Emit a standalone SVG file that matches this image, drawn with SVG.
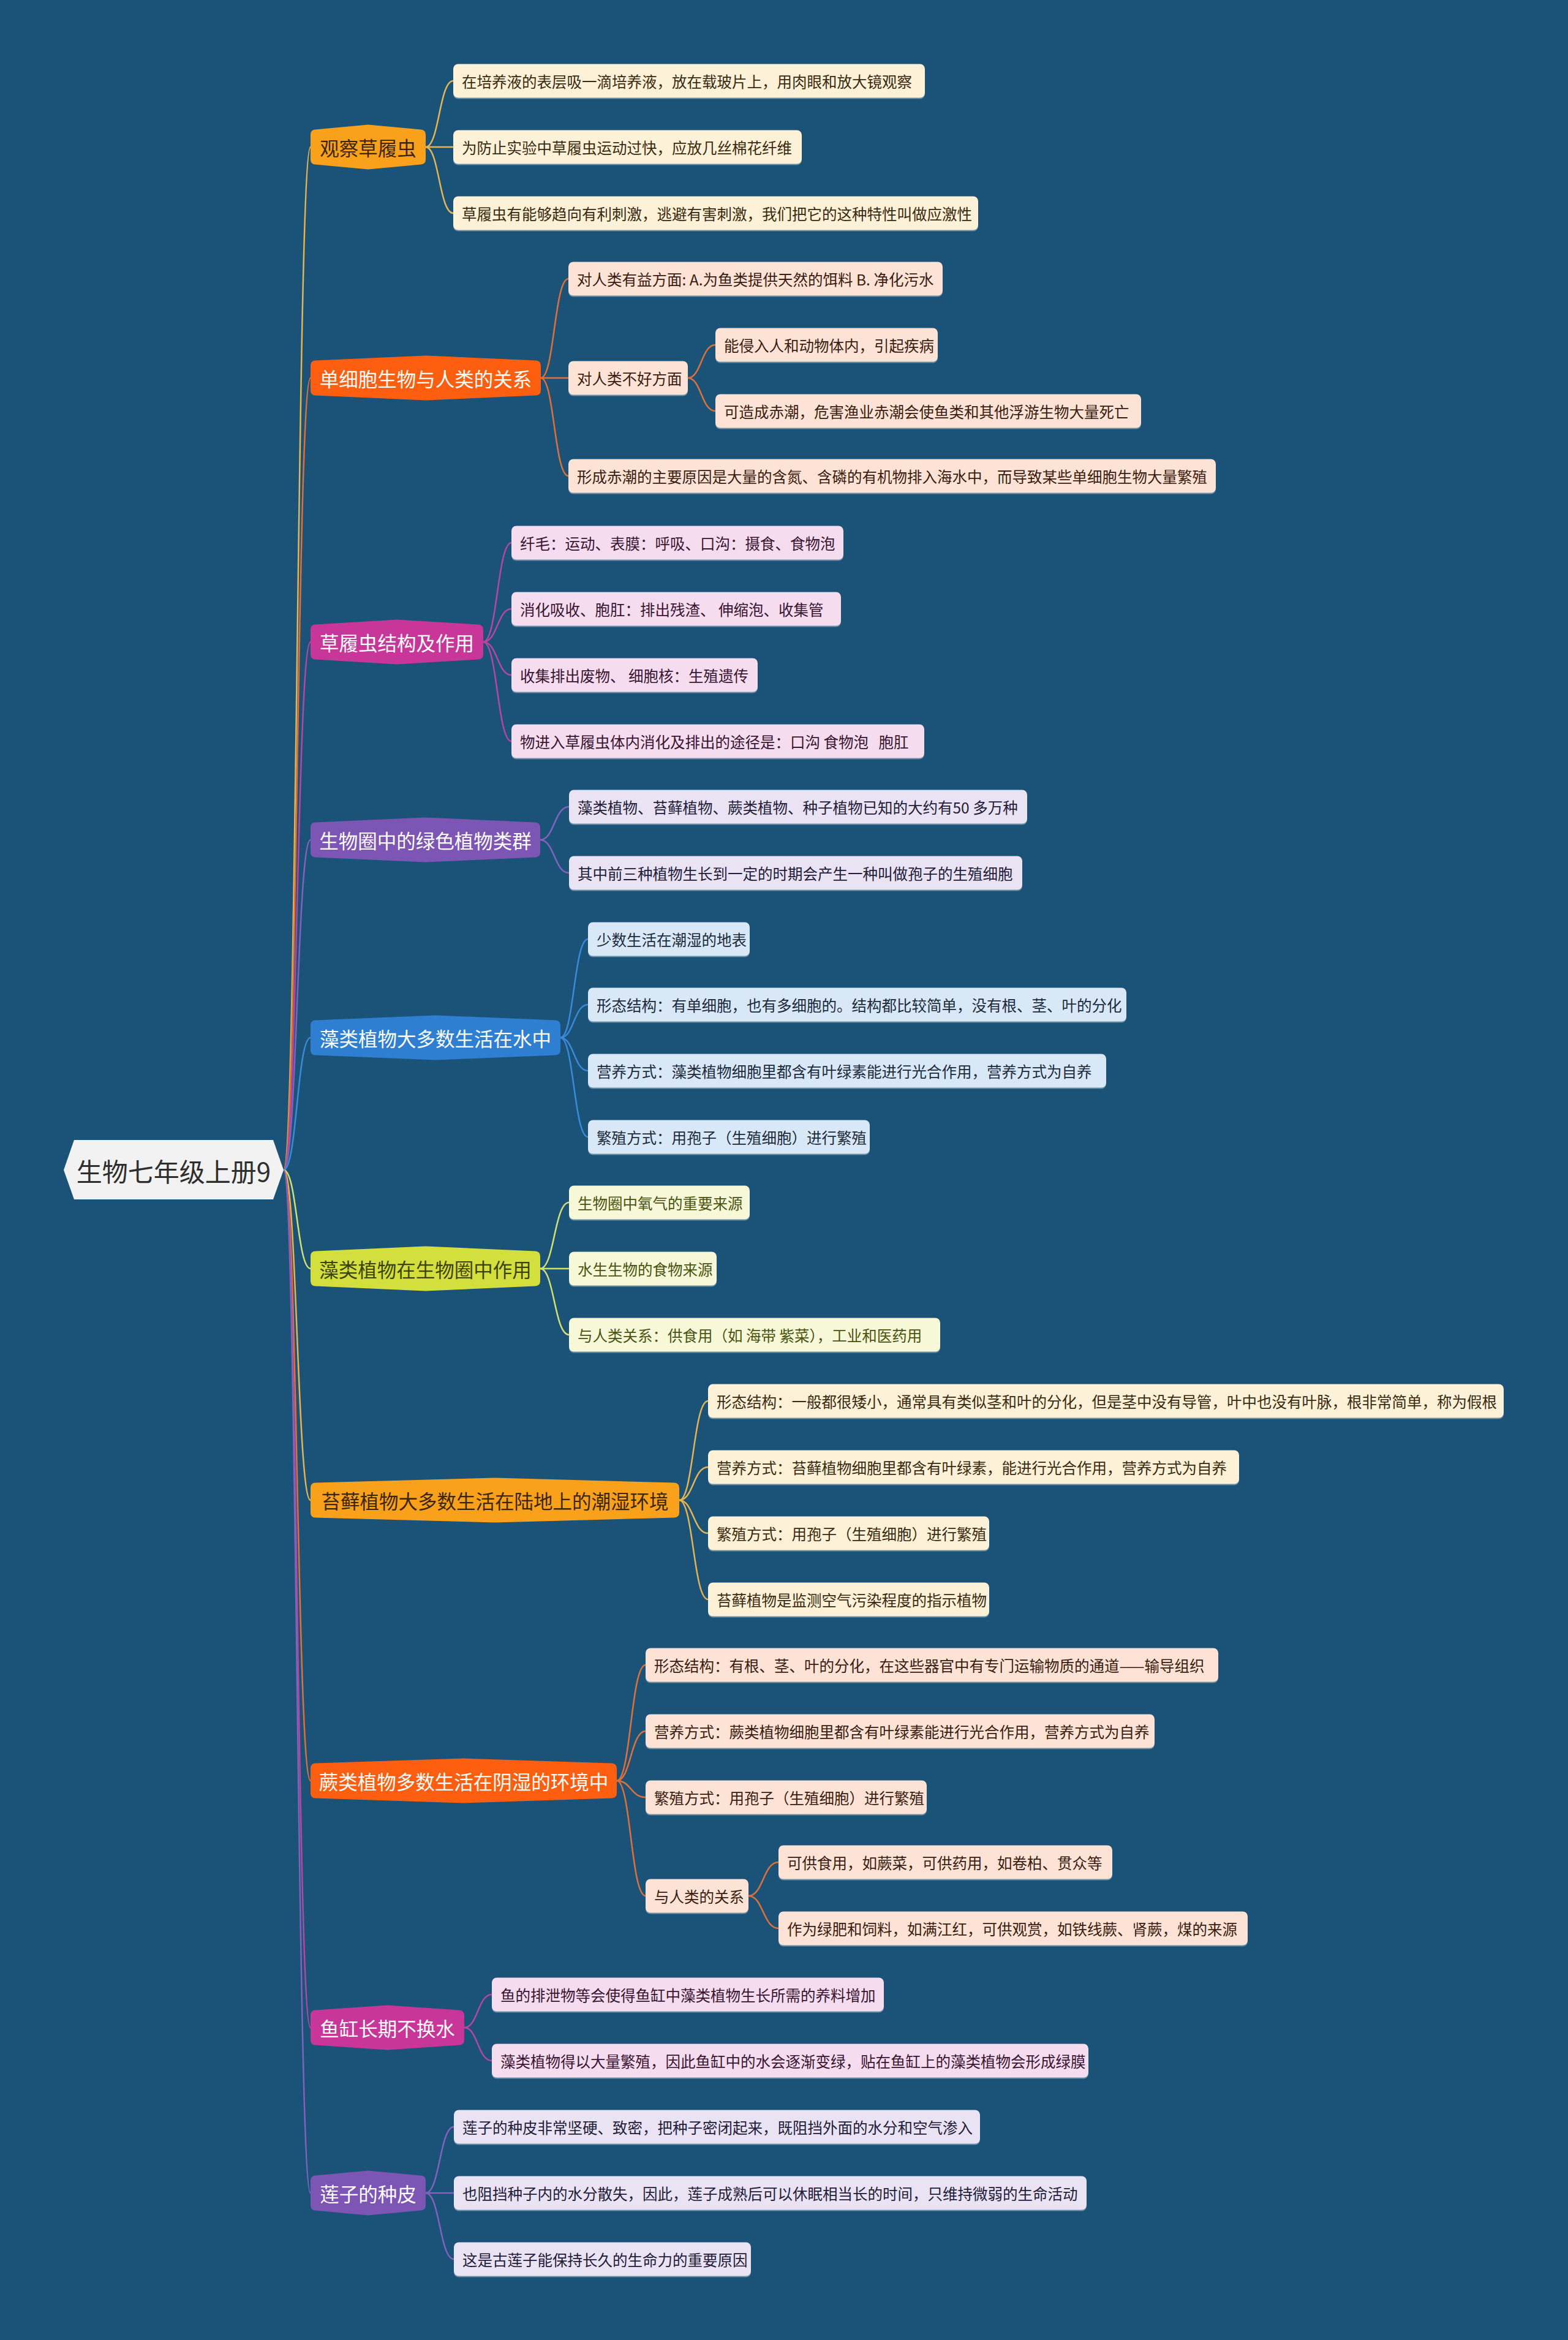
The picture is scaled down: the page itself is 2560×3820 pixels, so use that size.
<svg xmlns="http://www.w3.org/2000/svg" width="2560" height="3820" viewBox="0 0 2560 3820">
<style>
text{font-family:"Noto Sans CJK SC","Microsoft YaHei",sans-serif;dominant-baseline:central}
.lt{font-size:24.5px}
.nt{font-size:31.5px;text-anchor:middle}
.rt{font-size:42px;text-anchor:middle;fill:#2e2e2e}
.c{fill:none;stroke-width:2.5}
.sh{fill:#ffffff;opacity:.35}
.amber .np{fill:#f9a11b}.amber .nt{fill:#3b2607}
.red .np{fill:#fd5e0f}.red .nt{fill:#ffffff}
.mag .np{fill:#c8369a}.mag .nt{fill:#ffffff}
.pur .np{fill:#7d55b4}.pur .nt{fill:#ffffff}
.blue .np{fill:#2e7fd1}.blue .nt{fill:#ffffff}
.yg .np{fill:#d3df3c}.yg .nt{fill:#3b420a}
.la rect.b{fill:#fdf1d8}.la text{fill:#3a2a10}
.lr rect.b{fill:#fde3d5}.lr text{fill:#3b1c10}
.lm rect.b{fill:#f5dcee}.lm text{fill:#3a1532}
.lp rect.b{fill:#e9e3f3}.lp text{fill:#231c3a}
.lb rect.b{fill:#d9e8f6}.lb text{fill:#1b2a3d}
.ly rect.b{fill:#f6f8d8}.ly text{fill:#4b5310}
.ca{stroke:#e6b450}.cr{stroke:#e07038}.cm{stroke:#b447a0}.cp{stroke:#8262bc}.cb{stroke:#3a8ad8}.cy{stroke:#d3e070}
</style>
<rect x="0" y="0" width="2560" height="3820" fill="#1b5378"/>

<g id="connectors">
<path class="c ca" d="M463,1910 C485,1910 485,240 507,240"/>
<path class="c cr" d="M463,1910 C485,1910 485,617 507,617"/>
<path class="c cm" d="M463,1910 C485,1910 485,1048 507,1048"/>
<path class="c cp" d="M463,1910 C485,1910 485,1371 507,1371"/>
<path class="c cb" d="M463,1910 C485,1910 485,1694 507,1694"/>
<path class="c cy" d="M463,1910 C485,1910 485,2071 507,2071"/>
<path class="c ca" d="M463,1910 C485,1910 485,2449 507,2449"/>
<path class="c cr" d="M463,1910 C485,1910 485,2907 507,2907"/>
<path class="c cm" d="M463,1910 C485,1910 485,3310 507,3310"/>
<path class="c cp" d="M463,1910 C485,1910 485,3580 507,3580"/>

<path class="c ca" d="M695,240 C717,240 717,132 740,132"/>
<path class="c ca" d="M695,240 L740,240"/>
<path class="c ca" d="M695,240 C717,240 717,348 740,348"/>

<path class="c cr" d="M883,617 C905,617 905,455 928,455"/>
<path class="c cr" d="M883,617 L928,617"/>
<path class="c cr" d="M883,617 C905,617 905,777 928,777"/>
<path class="c cr" d="M1123,617 C1145,617 1145,563 1168,563"/>
<path class="c cr" d="M1123,617 C1145,617 1145,671 1168,671"/>

<path class="c cm" d="M789,1048 C812,1048 812,886 835,886"/>
<path class="c cm" d="M789,1048 C812,1048 812,994 835,994"/>
<path class="c cm" d="M789,1048 C812,1048 812,1102 835,1102"/>
<path class="c cm" d="M789,1048 C812,1048 812,1210 835,1210"/>

<path class="c cp" d="M882,1371 C905,1371 905,1317 929,1317"/>
<path class="c cp" d="M882,1371 C905,1371 905,1425 929,1425"/>

<path class="c cb" d="M915,1694 C937,1694 937,1533 960,1533"/>
<path class="c cb" d="M915,1694 C937,1694 937,1640 960,1640"/>
<path class="c cb" d="M915,1694 C937,1694 937,1748 960,1748"/>
<path class="c cb" d="M915,1694 C937,1694 937,1856 960,1856"/>

<path class="c cy" d="M882,2071 C905,2071 905,1963 929,1963"/>
<path class="c cy" d="M882,2071 L929,2071"/>
<path class="c cy" d="M882,2071 C905,2071 905,2179 929,2179"/>

<path class="c ca" d="M1109,2449 C1132,2449 1132,2287 1156,2287"/>
<path class="c ca" d="M1109,2449 C1132,2449 1132,2395 1156,2395"/>
<path class="c ca" d="M1109,2449 C1132,2449 1132,2503 1156,2503"/>
<path class="c ca" d="M1109,2449 C1132,2449 1132,2611 1156,2611"/>

<path class="c cr" d="M1007,2907 C1030,2907 1030,2718 1054,2718"/>
<path class="c cr" d="M1007,2907 C1030,2907 1030,2826 1054,2826"/>
<path class="c cr" d="M1007,2907 C1030,2907 1030,2934 1054,2934"/>
<path class="c cr" d="M1007,2907 C1030,2907 1030,3095 1054,3095"/>
<path class="c cr" d="M1222,3095 C1246,3095 1246,3040 1271,3040"/>
<path class="c cr" d="M1222,3095 C1246,3095 1246,3148 1271,3148"/>

<path class="c cm" d="M758,3310 C780,3310 780,3256 803,3256"/>
<path class="c cm" d="M758,3310 C780,3310 780,3364 803,3364"/>

<path class="c cp" d="M695,3580 C718,3580 718,3472 741,3472"/>
<path class="c cp" d="M695,3580 L741,3580"/>
<path class="c cp" d="M695,3580 C718,3580 718,3688 741,3688"/>
</g>

<g id="root">
<polygon points="121,1861 446,1861 463,1910 446,1958 121,1958 104,1910" fill="#f2f2f2"/>
<text class="rt" x="283.5" y="1910">生物七年级上册9</text>
</g>

<!-- Branch 1 -->
<g id="n1" class="amber" transform="translate(507,240)">
<path class="np" d="M0,-20 Q0,-28 8,-28.5 L94,-36.5 L180,-28.5 Q188,-28 188,-20 L188,20 Q188,28 180,28.5 L94,36.5 L8,28.5 Q0,28 0,20 Z"/>
<text class="nt" x="94" y="0">观察草履虫</text>
</g>
<g id="l1a" class="la" transform="translate(740,132)"><rect class="sh" x="0" y="-25.5" width="770" height="55" rx="8"/><rect class="b" x="0" y="-27.5" width="770" height="55" rx="8"/><text class="lt" x="14" y="0">在培养液的表层吸一滴培养液，放在载玻片上，用肉眼和放大镜观察</text></g>
<g id="l1b" class="la" transform="translate(740,240)"><rect class="sh" x="0" y="-25.5" width="569" height="55" rx="8"/><rect class="b" x="0" y="-27.5" width="569" height="55" rx="8"/><text class="lt" x="14" y="0">为防止实验中草履虫运动过快，应放几丝棉花纤维</text></g>
<g id="l1c" class="la" transform="translate(740,348)"><rect class="sh" x="0" y="-25.5" width="857" height="55" rx="8"/><rect class="b" x="0" y="-27.5" width="857" height="55" rx="8"/><text class="lt" x="14" y="0">草履虫有能够趋向有利刺激，逃避有害刺激，我们把它的这种特性叫做应激性</text></g>

<!-- Branch 2 -->
<g id="n2" class="red" transform="translate(507,617)">
<path class="np" d="M0,-20 Q0,-28 8,-28.5 L188,-36.5 L368,-28.5 Q376,-28 376,-20 L376,20 Q376,28 368,28.5 L188,36.5 L8,28.5 Q0,28 0,20 Z"/>
<text class="nt" x="188" y="0">单细胞生物与人类的关系</text>
</g>
<g id="l2a" class="lr" transform="translate(928,455)"><rect class="sh" x="0" y="-25.5" width="611" height="55" rx="8"/><rect class="b" x="0" y="-27.5" width="611" height="55" rx="8"/><text class="lt" x="14" y="0">对人类有益方面: A.为鱼类提供天然的饵料 B. 净化污水</text></g>
<g id="l2b" class="lr" transform="translate(928,617)"><rect class="sh" x="0" y="-25.5" width="195" height="55" rx="8"/><rect class="b" x="0" y="-27.5" width="195" height="55" rx="8"/><text class="lt" x="14" y="0">对人类不好方面</text></g>
<g id="l2b1" class="lr" transform="translate(1168,563)"><rect class="sh" x="0" y="-25.5" width="363" height="55" rx="8"/><rect class="b" x="0" y="-27.5" width="363" height="55" rx="8"/><text class="lt" x="14" y="0">能侵入人和动物体内，引起疾病</text></g>
<g id="l2b2" class="lr" transform="translate(1168,671)"><rect class="sh" x="0" y="-25.5" width="695" height="55" rx="8"/><rect class="b" x="0" y="-27.5" width="695" height="55" rx="8"/><text class="lt" x="14" y="0">可造成赤潮，危害渔业赤潮会使鱼类和其他浮游生物大量死亡</text></g>
<g id="l2c" class="lr" transform="translate(928,777)"><rect class="sh" x="0" y="-25.5" width="1057" height="55" rx="8"/><rect class="b" x="0" y="-27.5" width="1057" height="55" rx="8"/><text class="lt" x="14" y="0">形成赤潮的主要原因是大量的含氮、含磷的有机物排入海水中，而导致某些单细胞生物大量繁殖</text></g>

<!-- Branch 3 -->
<g id="n3" class="mag" transform="translate(507,1048)">
<path class="np" d="M0,-20 Q0,-28 8,-28.5 L141,-36.5 L274,-28.5 Q282,-28 282,-20 L282,20 Q282,28 274,28.5 L141,36.5 L8,28.5 Q0,28 0,20 Z"/>
<text class="nt" x="141" y="0">草履虫结构及作用</text>
</g>
<g id="l3a" class="lm" transform="translate(835,886)"><rect class="sh" x="0" y="-25.5" width="542" height="55" rx="8"/><rect class="b" x="0" y="-27.5" width="542" height="55" rx="8"/><text class="lt" x="14" y="0">纤毛：运动、表膜：呼吸、口沟：摄食、食物泡</text></g>
<g id="l3b" class="lm" transform="translate(835,994)"><rect class="sh" x="0" y="-25.5" width="538" height="55" rx="8"/><rect class="b" x="0" y="-27.5" width="538" height="55" rx="8"/><text class="lt" x="14" y="0">消化吸收、胞肛：排出残渣、 伸缩泡、收集管</text></g>
<g id="l3c" class="lm" transform="translate(835,1102)"><rect class="sh" x="0" y="-25.5" width="402" height="55" rx="8"/><rect class="b" x="0" y="-27.5" width="402" height="55" rx="8"/><text class="lt" x="14" y="0">收集排出废物、 细胞核：生殖遗传</text></g>
<g id="l3d" class="lm" transform="translate(835,1210)"><rect class="sh" x="0" y="-25.5" width="674" height="55" rx="8"/><rect class="b" x="0" y="-27.5" width="674" height="55" rx="8"/><text class="lt" x="14" y="0" xml:space="preserve">物进入草履虫体内消化及排出的途径是：口沟 食物泡   胞肛</text></g>

<!-- Branch 4 -->
<g id="n4" class="pur" transform="translate(507,1371)">
<path class="np" d="M0,-20 Q0,-28 8,-28.5 L187.5,-36.5 L367,-28.5 Q375,-28 375,-20 L375,20 Q375,28 367,28.5 L187.5,36.5 L8,28.5 Q0,28 0,20 Z"/>
<text class="nt" x="187.5" y="0">生物圈中的绿色植物类群</text>
</g>
<g id="l4a" class="lp" transform="translate(929,1317)"><rect class="sh" x="0" y="-25.5" width="748" height="55" rx="8"/><rect class="b" x="0" y="-27.5" width="748" height="55" rx="8"/><text class="lt" x="14" y="0">藻类植物、苔藓植物、蕨类植物、种子植物已知的大约有50 多万种</text></g>
<g id="l4b" class="lp" transform="translate(929,1425)"><rect class="sh" x="0" y="-25.5" width="740" height="55" rx="8"/><rect class="b" x="0" y="-27.5" width="740" height="55" rx="8"/><text class="lt" x="14" y="0">其中前三种植物生长到一定的时期会产生一种叫做孢子的生殖细胞</text></g>

<!-- Branch 5 -->
<g id="n5" class="blue" transform="translate(507,1694)">
<path class="np" d="M0,-20 Q0,-28 8,-28.5 L204,-36.5 L400,-28.5 Q408,-28 408,-20 L408,20 Q408,28 400,28.5 L204,36.5 L8,28.5 Q0,28 0,20 Z"/>
<text class="nt" x="204" y="0">藻类植物大多数生活在水中</text>
</g>
<g id="l5a" class="lb" transform="translate(960,1533)"><rect class="sh" x="0" y="-25.5" width="264" height="55" rx="8"/><rect class="b" x="0" y="-27.5" width="264" height="55" rx="8"/><text class="lt" x="14" y="0">少数生活在潮湿的地表</text></g>
<g id="l5b" class="lb" transform="translate(960,1640)"><rect class="sh" x="0" y="-25.5" width="879" height="55" rx="8"/><rect class="b" x="0" y="-27.5" width="879" height="55" rx="8"/><text class="lt" x="14" y="0">形态结构：有单细胞，也有多细胞的。结构都比较简单，没有根、茎、叶的分化</text></g>
<g id="l5c" class="lb" transform="translate(960,1748)"><rect class="sh" x="0" y="-25.5" width="846" height="55" rx="8"/><rect class="b" x="0" y="-27.5" width="846" height="55" rx="8"/><text class="lt" x="14" y="0">营养方式：藻类植物细胞里都含有叶绿素能进行光合作用，营养方式为自养</text></g>
<g id="l5d" class="lb" transform="translate(960,1856)"><rect class="sh" x="0" y="-25.5" width="460" height="55" rx="8"/><rect class="b" x="0" y="-27.5" width="460" height="55" rx="8"/><text class="lt" x="14" y="0">繁殖方式：用孢子（生殖细胞）进行繁殖</text></g>

<!-- Branch 6 -->
<g id="n6" class="yg" transform="translate(507,2071)">
<path class="np" d="M0,-20 Q0,-28 8,-28.5 L187.5,-36.5 L367,-28.5 Q375,-28 375,-20 L375,20 Q375,28 367,28.5 L187.5,36.5 L8,28.5 Q0,28 0,20 Z"/>
<text class="nt" x="187.5" y="0">藻类植物在生物圈中作用</text>
</g>
<g id="l6a" class="ly" transform="translate(929,1963)"><rect class="sh" x="0" y="-25.5" width="295" height="55" rx="8"/><rect class="b" x="0" y="-27.5" width="295" height="55" rx="8"/><text class="lt" x="14" y="0">生物圈中氧气的重要来源</text></g>
<g id="l6b" class="ly" transform="translate(929,2071)"><rect class="sh" x="0" y="-25.5" width="241" height="55" rx="8"/><rect class="b" x="0" y="-27.5" width="241" height="55" rx="8"/><text class="lt" x="14" y="0">水生生物的食物来源</text></g>
<g id="l6c" class="ly" transform="translate(929,2179)"><rect class="sh" x="0" y="-25.5" width="606" height="55" rx="8"/><rect class="b" x="0" y="-27.5" width="606" height="55" rx="8"/><text class="lt" x="14" y="0">与人类关系：供食用（如 海带 紫菜），工业和医药用</text></g>

<!-- Branch 7 -->
<g id="n7" class="amber" transform="translate(507,2449)">
<path class="np" d="M0,-20 Q0,-28 8,-28.5 L301,-36.5 L594,-28.5 Q602,-28 602,-20 L602,20 Q602,28 594,28.5 L301,36.5 L8,28.5 Q0,28 0,20 Z"/>
<text class="nt" x="301" y="0">苔藓植物大多数生活在陆地上的潮湿环境</text>
</g>
<g id="l7a" class="la" transform="translate(1156,2287)"><rect class="sh" x="0" y="-25.5" width="1299" height="55" rx="8"/><rect class="b" x="0" y="-27.5" width="1299" height="55" rx="8"/><text class="lt" x="14" y="0">形态结构：一般都很矮小，通常具有类似茎和叶的分化，但是茎中没有导管，叶中也没有叶脉，根非常简单，称为假根</text></g>
<g id="l7b" class="la" transform="translate(1156,2395)"><rect class="sh" x="0" y="-25.5" width="867" height="55" rx="8"/><rect class="b" x="0" y="-27.5" width="867" height="55" rx="8"/><text class="lt" x="14" y="0">营养方式：苔藓植物细胞里都含有叶绿素，能进行光合作用，营养方式为自养</text></g>
<g id="l7c" class="la" transform="translate(1156,2503)"><rect class="sh" x="0" y="-25.5" width="459" height="55" rx="8"/><rect class="b" x="0" y="-27.5" width="459" height="55" rx="8"/><text class="lt" x="14" y="0">繁殖方式：用孢子（生殖细胞）进行繁殖</text></g>
<g id="l7d" class="la" transform="translate(1156,2611)"><rect class="sh" x="0" y="-25.5" width="459" height="55" rx="8"/><rect class="b" x="0" y="-27.5" width="459" height="55" rx="8"/><text class="lt" x="14" y="0">苔藓植物是监测空气污染程度的指示植物</text></g>

<!-- Branch 8 -->
<g id="n8" class="red" transform="translate(507,2907)">
<path class="np" d="M0,-20 Q0,-28 8,-28.5 L250,-36.5 L492,-28.5 Q500,-28 500,-20 L500,20 Q500,28 492,28.5 L250,36.5 L8,28.5 Q0,28 0,20 Z"/>
<text class="nt" x="250" y="0">蕨类植物多数生活在阴湿的环境中</text>
</g>
<g id="l8a" class="lr" transform="translate(1054,2718)"><rect class="sh" x="0" y="-25.5" width="935" height="55" rx="8"/><rect class="b" x="0" y="-27.5" width="935" height="55" rx="8"/><text class="lt" x="14" y="0">形态结构：有根、茎、叶的分化，在这些器官中有专门运输物质的通道——输导组织</text></g>
<g id="l8b" class="lr" transform="translate(1054,2826)"><rect class="sh" x="0" y="-25.5" width="831" height="55" rx="8"/><rect class="b" x="0" y="-27.5" width="831" height="55" rx="8"/><text class="lt" x="14" y="0">营养方式：蕨类植物细胞里都含有叶绿素能进行光合作用，营养方式为自养</text></g>
<g id="l8c" class="lr" transform="translate(1054,2934)"><rect class="sh" x="0" y="-25.5" width="459" height="55" rx="8"/><rect class="b" x="0" y="-27.5" width="459" height="55" rx="8"/><text class="lt" x="14" y="0">繁殖方式：用孢子（生殖细胞）进行繁殖</text></g>
<g id="l8d" class="lr" transform="translate(1054,3095)"><rect class="sh" x="0" y="-25.5" width="168" height="55" rx="8"/><rect class="b" x="0" y="-27.5" width="168" height="55" rx="8"/><text class="lt" x="14" y="0">与人类的关系</text></g>
<g id="l8d1" class="lr" transform="translate(1271,3040)"><rect class="sh" x="0" y="-25.5" width="545" height="55" rx="8"/><rect class="b" x="0" y="-27.5" width="545" height="55" rx="8"/><text class="lt" x="14" y="0">可供食用，如蕨菜，可供药用，如卷柏、贯众等</text></g>
<g id="l8d2" class="lr" transform="translate(1271,3148)"><rect class="sh" x="0" y="-25.5" width="766" height="55" rx="8"/><rect class="b" x="0" y="-27.5" width="766" height="55" rx="8"/><text class="lt" x="14" y="0">作为绿肥和饲料，如满江红，可供观赏，如铁线蕨、肾蕨，煤的来源</text></g>

<!-- Branch 9 -->
<g id="n9" class="mag" transform="translate(507,3310)">
<path class="np" d="M0,-20 Q0,-28 8,-28.5 L125.5,-36.5 L243,-28.5 Q251,-28 251,-20 L251,20 Q251,28 243,28.5 L125.5,36.5 L8,28.5 Q0,28 0,20 Z"/>
<text class="nt" x="125.5" y="0">鱼缸长期不换水</text>
</g>
<g id="l9a" class="lm" transform="translate(803,3256)"><rect class="sh" x="0" y="-25.5" width="640" height="55" rx="8"/><rect class="b" x="0" y="-27.5" width="640" height="55" rx="8"/><text class="lt" x="14" y="0">鱼的排泄物等会使得鱼缸中藻类植物生长所需的养料增加</text></g>
<g id="l9b" class="lm" transform="translate(803,3364)"><rect class="sh" x="0" y="-25.5" width="974" height="55" rx="8"/><rect class="b" x="0" y="-27.5" width="974" height="55" rx="8"/><text class="lt" x="14" y="0">藻类植物得以大量繁殖，因此鱼缸中的水会逐渐变绿，贴在鱼缸上的藻类植物会形成绿膜</text></g>

<!-- Branch 10 -->
<g id="n10" class="pur" transform="translate(507,3580)">
<path class="np" d="M0,-20 Q0,-28 8,-28.5 L94,-36.5 L180,-28.5 Q188,-28 188,-20 L188,20 Q188,28 180,28.5 L94,36.5 L8,28.5 Q0,28 0,20 Z"/>
<text class="nt" x="94" y="0">莲子的种皮</text>
</g>
<g id="l10a" class="lp" transform="translate(741,3472)"><rect class="sh" x="0" y="-25.5" width="859" height="55" rx="8"/><rect class="b" x="0" y="-27.5" width="859" height="55" rx="8"/><text class="lt" x="14" y="0">莲子的种皮非常坚硬、致密，把种子密闭起来，既阻挡外面的水分和空气渗入</text></g>
<g id="l10b" class="lp" transform="translate(741,3580)"><rect class="sh" x="0" y="-25.5" width="1033" height="55" rx="8"/><rect class="b" x="0" y="-27.5" width="1033" height="55" rx="8"/><text class="lt" x="14" y="0">也阻挡种子内的水分散失，因此，莲子成熟后可以休眠相当长的时间，只维持微弱的生命活动</text></g>
<g id="l10c" class="lp" transform="translate(741,3688)"><rect class="sh" x="0" y="-25.5" width="485" height="55" rx="8"/><rect class="b" x="0" y="-27.5" width="485" height="55" rx="8"/><text class="lt" x="14" y="0">这是古莲子能保持长久的生命力的重要原因</text></g>
</svg>
